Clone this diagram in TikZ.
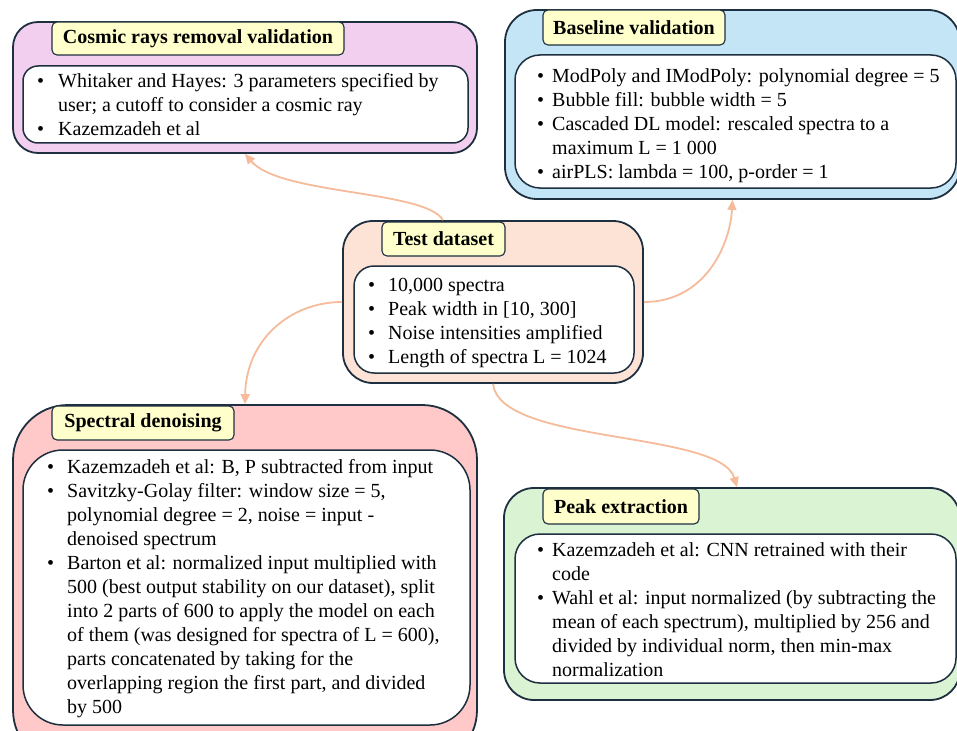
\documentclass[tikz,border=0pt]{standalone}
\usepackage{fontspec}
\setmainfont{Liberation Serif}
\usetikzlibrary{arrows.meta,calc}
\definecolor{bord}{HTML}{1E2F40}
\definecolor{cpink}{HTML}{F2CFEE}
\definecolor{cblue}{HTML}{C4E5F5}
\definecolor{cpeach}{HTML}{FDE2D6}
\definecolor{csalmon}{HTML}{FFC9C9}
\definecolor{cgreen}{HTML}{DAF3D2}
\definecolor{cyel}{HTML}{FFFFCC}
\definecolor{carrow}{HTML}{F5BB9A}
\newcommand{\blist}[2]{{\fontsize{20}{24}\selectfont\begin{tabular}{@{}p{#1}@{}l@{}}#2\end{tabular}}}
\tikzset{
  outerbox/.style={draw=bord, line width=1.8pt, inner sep=0pt},
  innerbox/.style={draw=bord, fill=white, line width=1.5pt, inner sep=0pt},
  titlebox/.style={draw=bord, fill=cyel, line width=1.1pt, rounded corners=5pt, inner sep=0pt,
    font=\fontsize{20}{22}\selectfont\bfseries},
  listtext/.style={anchor=north west, inner sep=0pt},
  conn/.style={draw=carrow, line width=1.8pt, -{Triangle[length=10pt,width=9pt]}}
}
\begin{document}
\begin{tikzpicture}[x=1pt,y=-1pt]
\useasboundingbox (0,0) rectangle (957,730);
\clip (0,0) rectangle (957,730);
\fill[white] (0,0) rectangle (957,730);

% Cosmic rays removal validation
\node[outerbox, fill=cpink, rounded corners=25pt, minimum width=464pt, minimum height=131pt] (cos) at (245,87.5) {};
\node[innerbox, rounded corners=15pt, minimum width=445pt, minimum height=77pt] (cosin) at (245.5,104.5) {};
\node[titlebox, minimum width=292pt, minimum height=33pt] (costitle) at (198,38.5) {Cosmic rays removal validation};
\node[listtext] (costext) at (37,71) {\blist{21pt}{%
\textbullet & Whitaker and Hayes: 3 parameters specified by\\
 & user; a cutoff to consider a cosmic ray\\
\textbullet & Kazemzadeh et al}};

% Baseline validation
\node[outerbox, fill=cblue, rounded corners=32pt, minimum width=455pt, minimum height=189pt] (base) at (732.5,104.5) {};
\node[innerbox, rounded corners=25pt, minimum width=441pt, minimum height=133pt] (basein) at (735.5,121.5) {};
\node[titlebox, minimum width=182pt, minimum height=35pt] (basetitle) at (634,27.5) {Baseline validation};
\node[listtext] (basetext) at (537,66) {\blist{15pt}{%
\textbullet & ModPoly and IModPoly: polynomial degree = 5\\
\textbullet & Bubble fill: bubble width = 5\\
\textbullet & Cascaded DL model: rescaled spectra to a\\
 & maximum L = 1 000\\
\textbullet & airPLS: lambda = 100, p-order = 1}};

% Test dataset
\node[outerbox, fill=cpeach, rounded corners=30pt, minimum width=300pt, minimum height=162pt] (test) at (493,302) {};
\node[innerbox, rounded corners=20pt, minimum width=280pt, minimum height=107pt] (testin) at (494,319.5) {};
\node[titlebox, minimum width=123pt, minimum height=34pt] (testtitle) at (443.5,239) {Test dataset};
\node[listtext] (testtext) at (368,274) {\blist{20pt}{%
\textbullet & 10,000 spectra\\
\textbullet & Peak width in [10, 300]\\
\textbullet & Noise intensities amplified\\
\textbullet & Length of spectra L = 1024}};

% Spectral denoising
\node[outerbox, fill=csalmon, rounded corners=55pt, minimum width=464pt, minimum height=360pt] (spec) at (245,585) {};
\node[innerbox, rounded corners=40pt, minimum width=447pt, minimum height=275pt] (specin) at (246.5,587.5) {};
\node[titlebox, minimum width=182pt, minimum height=34pt] (spectitle) at (143,423) {Spectral denoising};
\node[listtext] (spectext) at (47,456) {\blist{20pt}{%
\textbullet & Kazemzadeh et al: B, P subtracted from input\\
\textbullet & Savitzky-Golay filter: window size = 5,\\
 & polynomial degree = 2, noise = input -\\
 & denoised spectrum\\
\textbullet & Barton et al: normalized input multiplied with\\
 & 500 (best output stability on our dataset), split\\
 & into 2 parts of 600 to apply the model on each\\
 & of them (was designed for spectra of L = 600),\\
 & parts concatenated by taking for the\\
 & overlapping region the first part, and divided\\
 & by 500}};

% Peak extraction
\node[outerbox, fill=cgreen, rounded corners=30pt, minimum width=456pt, minimum height=212pt] (peak) at (732,594) {};
\node[innerbox, rounded corners=25pt, minimum width=441pt, minimum height=149pt] (peakin) at (735.5,608.5) {};
\node[titlebox, minimum width=156pt, minimum height=35pt] (peaktitle) at (621,506.5) {Peak extraction};
\node[listtext] (peaktext) at (537,539) {\blist{15pt}{%
\textbullet & Kazemzadeh et al: CNN retrained with their\\
 & code\\
\textbullet & Wahl et al: input normalized (by subtracting the\\
 & mean of each spectrum), multiplied by 256 and\\
 & divided by individual norm, then min-max\\
 & normalization}};

% connectors
\coordinate (tup) at ($(test.north)+(-50,0)$);
\draw[conn] (tup) .. controls (425,190) and (280,195) .. (cos.south);
\draw[conn] (test.east) .. controls (705,302) and (730,245) .. (base.south);
\draw[conn] (test.west) .. controls (290,302) and (246,340) .. (spec.north);
\coordinate (ptop) at ($(peak.north)+(5,0)$);
\draw[conn] (test.south) .. controls (500,445) and (720,430) .. (ptop);
\end{tikzpicture}
\end{document}
